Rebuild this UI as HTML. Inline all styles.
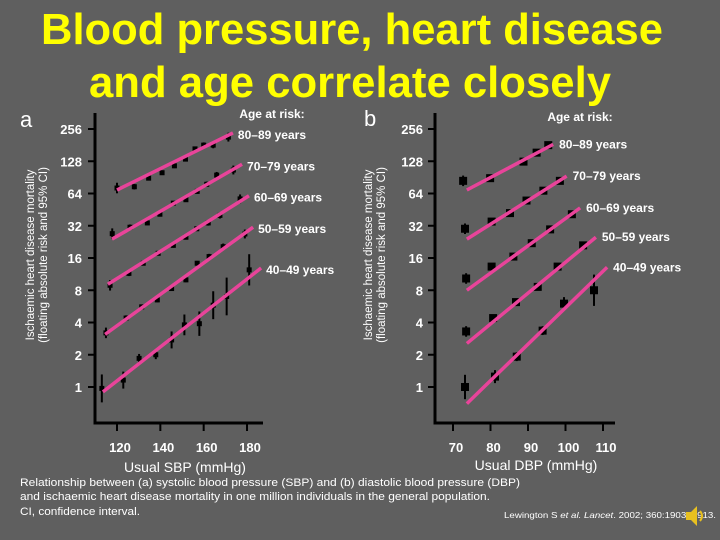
<!DOCTYPE html>
<html><head><meta charset="utf-8">
<style>
html,body{margin:0;padding:0;background:#5f5f5f;}
#wrap{position:relative;width:720px;height:540px;overflow:hidden;background:#5f5f5f;font-family:"Liberation Sans",sans-serif;}
svg text{font-family:"Liberation Sans",sans-serif;}
</style></head>
<body>
<div id="wrap">
<svg id="chart" width="720" height="540" viewBox="0 0 720 540">
<text x="352" y="44" text-anchor="middle" font-size="44" font-weight="bold" fill="#ffff00" textLength="622" lengthAdjust="spacingAndGlyphs">Blood pressure, heart disease</text>
<text x="350" y="97" text-anchor="middle" font-size="44" font-weight="bold" fill="#ffff00" textLength="522" lengthAdjust="spacingAndGlyphs">and age correlate closely</text>
<text x="20" y="127" font-size="22" fill="#fff">a</text>
<text x="364" y="126" font-size="22" fill="#fff">b</text>
<g id="pa"></g>
<g id="pb"></g>
<text x="185" y="472" text-anchor="middle" font-size="14" fill="#fff">Usual SBP (mmHg)</text>
<text x="536" y="470" text-anchor="middle" font-size="14" fill="#fff">Usual DBP (mmHg)</text>
<g transform="rotate(-90)">
<text x="-255" y="34" text-anchor="middle" font-size="11.5" fill="#fff">Ischaemic heart disease mortality</text>
<text x="-255" y="47" text-anchor="middle" font-size="11.5" fill="#fff">(floating absolute risk and 95% CI)</text>
</g>
<g transform="rotate(-90)">
<text x="-255" y="372" text-anchor="middle" font-size="11.5" fill="#fff">Ischaemic heart disease mortality</text>
<text x="-255" y="385" text-anchor="middle" font-size="11.5" fill="#fff">(floating absolute risk and 95% CI)</text>
</g>
<g font-size="11" fill="#fff">
<text x="20" y="486" textLength="500" lengthAdjust="spacingAndGlyphs">Relationship between (a) systolic blood pressure (SBP) and (b) diastolic blood pressure (DBP)</text>
<text x="20" y="500" textLength="470" lengthAdjust="spacingAndGlyphs">and ischaemic heart disease mortality in one million individuals in the general population.</text>
<text x="20" y="515" textLength="120" lengthAdjust="spacingAndGlyphs">CI, confidence interval.</text>
</g>
<text x="504" y="518" font-size="8.5" fill="#fff" textLength="212" lengthAdjust="spacingAndGlyphs">Lewington S <tspan font-style="italic">et al.</tspan> <tspan font-style="italic">Lancet</tspan>. 2002; 360:1903–1913.</text>
<g transform="translate(686,506)">
<polygon points="0,6 5,6 11,0 11,20 5,14 0,14" fill="#e8c020"/>
<path d="M14,5 Q18,10 14,15" stroke="#e8c020" stroke-width="2" fill="none"/>
</g>
</svg>
</div>
<script>
// ---- Panel a data (SBP) ----
const ageGroups = ["40–49 years","50–59 years","60–69 years","70–79 years","80–89 years"];
const yTicks = [1,2,4,8,16,32,64,128,256];
const sbpTicks = [120,140,160,180];
const dbpTicks = [70,80,90,100,110];
const sbp4049 = [113,122.9,130.2,137.9,145.2,151.1,158,164.4,170.6,181];
const risk4049a = [0.97,1.16,1.85,2.0,2.75,3.8,3.9,5.8,7.0,12.4];
const sbp5059 = [114.9,124.2,131.4,138.6,145.2,151.8,157,162.5,169,179];
const risk5059a = [3.2,4.4,5.6,6.5,8.3,10,14.3,16.5,20.4,26.8];
const sbp6069 = [116.8,125.5,132.1,139,146,151.8,156.8,162.1,167.5,176.8];
const risk6069a = [8.9,11.5,14.3,17.7,21,25,30,34,40,57];
const sbp7079 = [117.8,126,134,139.8,146,151.8,157,161.4,166,173.7];
const risk7079a = [27,31,34,41,52,56,67,78,95,106];
const sbp8089 = [120,128,134.6,140.8,146.5,151.6,156,160,164.4,171.4];
const risk8089a = [72,74,89,100,116,134,167,181,181,215];
const err4049a = [1.35,1.2,1.1,1.1,1.2,1.25,1.3,1.35,1.5,1.4];
const errOtherA = [1.12,1.06,1.05,1.05,1.05,1.05,1.05,1.06,1.07,1.1];
const fitSbpStart = [113.5,114.5,115.8,117.7,120];
const fitSbpEnd = [186.5,182.8,180.9,177.7,173.5];
const fitRiskAStart = [0.9,3.1,9.1,24,69];
const fitRiskAEnd = [12.9,31,61,120,235];
// ---- Panel b data (DBP) ----
const dbp4049 = [73.2,81.2,87,93.9,99.6,107.6];
const risk4049b = [1.0,1.25,1.92,3.36,6.0,8.0];
const dbp5059 = [73.5,80.7,86.8,92.6,97.9,104.7];
const risk5059b = [3.3,4.4,6.2,8.6,13.3,21];
const dbp6069 = [73.5,80.3,86.1,91,95.9,101.7];
const risk6069b = [10.3,13.3,16.5,22,29.6,41];
const dbp7079 = [73.2,80.3,85.2,89.6,94.1,98.5];
const risk7079b = [30,35,42,55,68,84];
const dbp8089 = [72.7,79.9,88.8,92.3,95.4];
const risk8089b = [84,89,127,154,181];
const err4049b = [1.3,1.15,1.1,1.1,1.15,1.4];
const errOtherB = [1.12,1.05,1.05,1.05,1.06,1.08];
const fitDbpStart = [73.7,73.7,73.7,73.7,73.7];
const fitDbpEnd = [111.1,108.1,103.9,100.3,96.7];
const fitRiskBStart = [0.70,2.55,8,24,69];
const fitRiskBEnd = [13.1,25,47,93,184];

const NS = "http://www.w3.org/2000/svg";
function mk(parent, tag, attrs){
  const e = document.createElementNS(NS, tag);
  for (const k in attrs) e.setAttribute(k, attrs[k]);
  parent.appendChild(e); return e;
}
function yScale(v){ return 387 - Math.log2(v) * 32.25; }
function xA(v){ return 117 + (v - 120) * 2.167; }
function xB(v){ return 453 + (v - 70) * 3.75; }

function drawPanel(g, xs, xTicks, axisX, axisEnd, tickLabelX, seriesX, seriesY, errs, fsx, fex, fsy, fey, sq, labelPos, agePos){
  const axis = mk(g,'path',{d:`M${axisX},113 L${axisX},423 L${axisEnd},423`, stroke:'#000','stroke-width':3, fill:'none'});
  
  
  yTicks.forEach(t=>{
    const y = yScale(t);
    const tk = mk(g,'line',{x1:axisX-7,x2:axisX,y1:y,y2:y,stroke:'#000','stroke-width':2});
    
    
    const tl = mk(g,'text',{x:tickLabelX,y:y+5,'text-anchor':'end','font-size':13,'font-weight':'bold',fill:'#fff'});
    tl.textContent = t;
    
    
  });
  xTicks.forEach(t=>{
    const x = xs(t);
    const tk = mk(g,'line',{x1:x,x2:x,y1:423,y2:431,stroke:'#000','stroke-width':2});
    
    
    const tl = mk(g,'text',{x:x+3,y:452,'text-anchor':'middle','font-size':13,'font-weight':'bold',fill:'#fff'});
    tl.textContent = t;
    
    
  });
  for (let s=0; s<5; s++){
    const err = s===0 ? errs[0] : errs[1];
    for (let i=0;i<seriesX[s].length;i++){
      const x = xs(seriesX[s][i]), v = seriesY[s][i], e = err[i % err.length];
      const eb = mk(g,'line',{x1:x,x2:x,y1:yScale(v*e),y2:yScale(v/e),stroke:'#000','stroke-width':2});
      
      
      const p = mk(g,'rect',{x:x-sq/2,y:yScale(v)-sq/2,width:sq,height:sq,fill:'#000'});
      
      
    }
    const ln = mk(g,'line',{x1:xs(fsx[s]),y1:yScale(fsy[s]),x2:xs(fex[s]),y2:yScale(fey[s]),stroke:'#e8449a','stroke-width':3.5});
    
    
    const lb = mk(g,'text',{x:xs(fex[s])+labelPos[0],y:yScale(fey[s])+labelPos[1],'font-size':12,'font-weight':'bold',fill:'#fff'});
    lb.textContent = ageGroups[s];
    
    
  }
  const at = mk(g,'text',{x:agePos[0],y:agePos[1],'text-anchor':'middle','font-size':12,'font-weight':'bold',fill:'#fff'});
  at.textContent = 'Age at risk:';
  
  
}
drawPanel(document.getElementById('pa'), xA, sbpTicks, 95, 263, 82,
  [sbp4049,sbp5059,sbp6069,sbp7079,sbp8089],[risk4049a,risk5059a,risk6069a,risk7079a,risk8089a], [err4049a, errOtherA],
  fitSbpStart, fitSbpEnd, fitRiskAStart, fitRiskAEnd, 5, [5,6], [272,118]);
drawPanel(document.getElementById('pb'), xB, dbpTicks, 435, 615, 423,
  [dbp4049,dbp5059,dbp6069,dbp7079,dbp8089],[risk4049b,risk5059b,risk6069b,risk7079b,risk8089b], [err4049b, errOtherB],
  fitDbpStart, fitDbpEnd, fitRiskBStart, fitRiskBEnd, 8, [6,4], [580,121]);
</script>
</body></html>
